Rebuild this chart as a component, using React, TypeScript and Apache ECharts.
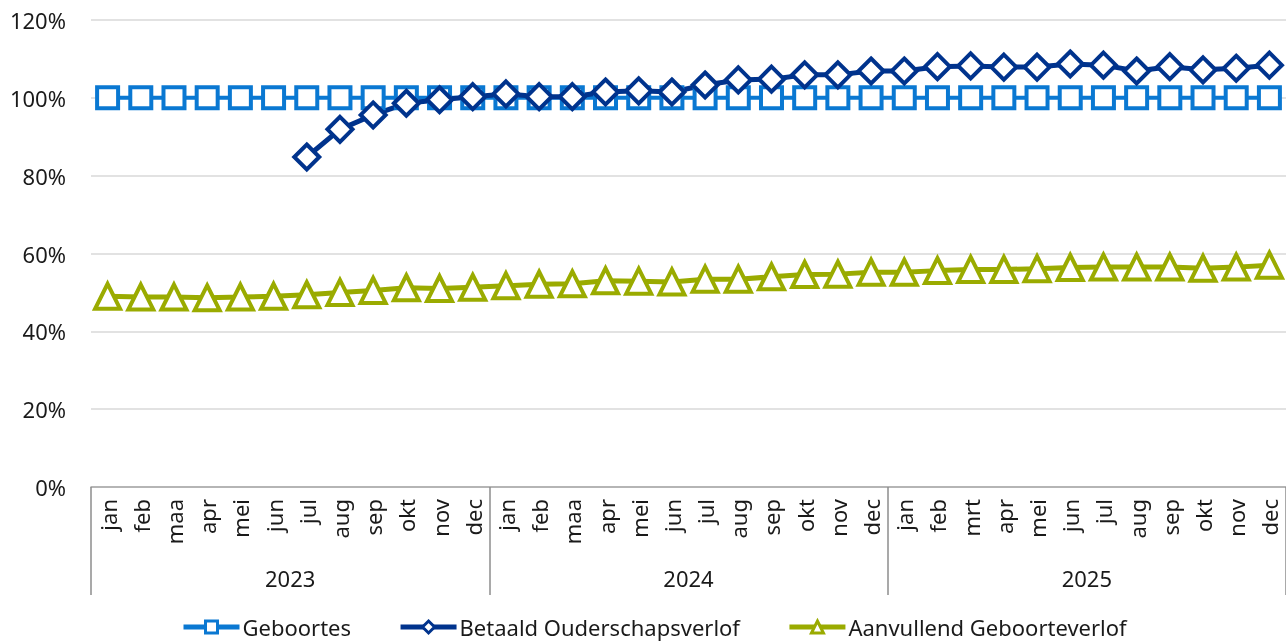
import React, { useEffect, useRef } from "react";
import * as echarts from "echarts";

const months = [
  "jan", "feb", "maa", "apr", "mei", "jun", "jul", "aug", "sep", "okt", "nov", "dec",
  "jan", "feb", "maa", "apr", "mei", "jun", "jul", "aug", "sep", "okt", "nov", "dec",
  "jan", "feb", "mrt", "apr", "mei", "jun", "jul", "aug", "sep", "okt", "nov", "dec",
];
const years = ["2023", "2024", "2025"];
const yTicks = [0, 20, 40, 60, 80, 100, 120];

const geboortes = [
  100, 100, 100, 100, 100, 100, 100, 100, 100, 100, 100, 100,
  100, 100, 100, 100, 100, 100, 100, 100, 100, 100, 100, 100,
  100, 100, 100, 100, 100, 100, 100, 100, 100, 100, 100, 100,
];
const betaald = [
  null, null, null, null, null, null, 84.8, 91.9, 95.6, 98.6, 99.5, 100.3,
  101.0, 100.3, 100.3, 101.5, 101.8, 101.5, 103.3, 104.6, 104.8, 105.9, 105.9, 106.9,
  106.9, 108.0, 108.2, 107.9, 107.9, 108.7, 108.4, 106.9, 108.0, 107.2, 107.6, 108.4,
];
const aanvullend = [
  49.0, 48.8, 48.8, 48.6, 48.8, 49.0, 49.4, 50.0, 50.5, 51.2, 51.0, 51.3,
  51.7, 52.1, 52.2, 53.0, 52.9, 52.7, 53.4, 53.4, 54.0, 54.6, 54.7, 55.2,
  55.2, 55.6, 55.9, 55.9, 56.1, 56.4, 56.5, 56.5, 56.5, 56.2, 56.5, 57.0,
];

const FONT = "Noto Sans";
const TXT = "#1a1a1a";

export default function App() {
  const ref = useRef<HTMLDivElement>(null);
  useEffect(() => {
    const chart = echarts.init(ref.current!, null, { renderer: "svg" });
    const lineSeries = (name: string, data: (number | null)[], color: string, symbol: string, size: any, lw: number) => ({
      name,
      type: "line",
      data,
      xAxisIndex: 0,
      symbol,
      symbolSize: size,
      showAllSymbol: true,
      connectNulls: false,
      lineStyle: { color, width: lw },
      itemStyle: { color: "#ffffff", borderColor: color, borderWidth: 4 },
      emphasis: { disabled: true },
    });
    chart.setOption({
      animation: false,
      textStyle: { fontFamily: FONT },
      grid: { left: 91, right: 0, top: 20, bottom: 156, containLabel: false },
      legend: {
        left: 181,
        top: 616,
        padding: 0,
        itemWidth: 56,
        itemHeight: 15,
        itemGap: 47,
        lineStyle: { width: 5 },
        itemStyle: { borderWidth: 3 },
        textStyle: { fontFamily: FONT, fontSize: 22, color: TXT, padding: [0, 0, 0, -2] },
        data: ["Geboortes", "Betaald Ouderschapsverlof", "Aanvullend Geboorteverlof"],
      },
      xAxis: [
        {
          type: "category",
          data: months,
          position: "bottom",
          boundaryGap: true,
          axisLine: { show: true, lineStyle: { color: "#a6a6a6", width: 1.5 } },
          axisTick: { show: false },
          axisLabel: {
            rotate: 90,
            interval: 0,
            margin: 12,
            fontFamily: FONT,
            fontSize: 22,
            color: TXT,
          },
          splitLine: { show: false },
        },
        {
          type: "category",
          data: years,
          position: "bottom",
          boundaryGap: true,
          axisLine: { show: false },
          axisTick: { show: true, length: 108, lineStyle: { color: "#8c8c8c", width: 1.5 } },
          axisLabel: { margin: 80, fontFamily: FONT, fontSize: 22, color: TXT },
          splitLine: { show: false },
        },
      ],
      yAxis: {
        type: "value",
        min: yTicks[0],
        max: yTicks[yTicks.length - 1],
        interval: 20,
        axisLine: { show: false },
        axisTick: { show: false },
        axisLabel: {
          formatter: "{value}%",
          margin: 25,
          fontFamily: FONT,
          fontSize: 22,
          color: TXT,
        },
        splitLine: { lineStyle: { color: "#d9d9d9", width: 1.5 } },
      },
      series: [
        lineSeries("Geboortes", geboortes, "#0a78d2", "rect", 21, 4),
        lineSeries("Betaald Ouderschapsverlof", betaald, "#00338d", "diamond", 25, 5),
        lineSeries("Aanvullend Geboorteverlof", aanvullend, "#9aab00", "triangle", [25, 25], 5),
      ],
    });
    return () => chart.dispose();
  }, []);
  return (
    <div
      ref={ref}
      style={{ position: "fixed", left: 0, top: 0, width: 1286, height: 643 }}
    />
  );
}
